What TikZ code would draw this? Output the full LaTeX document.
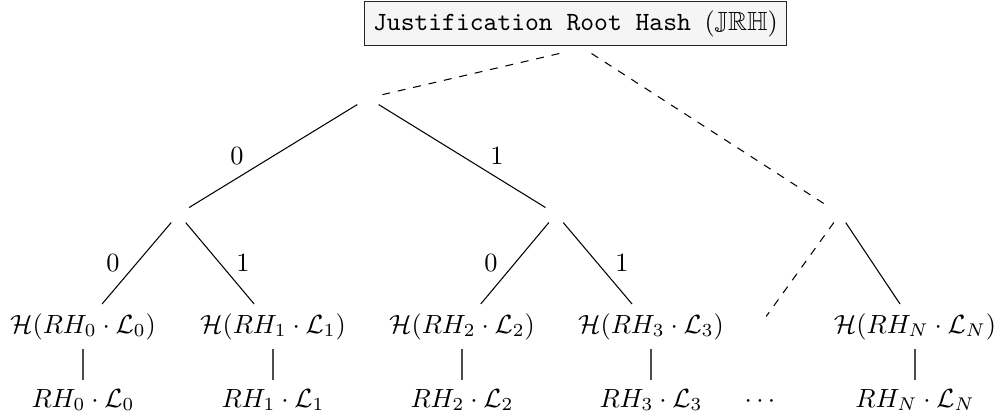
\documentclass[tikz,border=0pt]{standalone}
\usepackage{amssymb}
\begin{document}
\begin{tikzpicture}[x=0.38pt,y=-0.38pt,
  edge/.style={line width=0.4pt},
  dashededge/.style={line width=0.4pt,dashed},
  inner1/.style={inner sep=0pt,minimum width=9.9pt,minimum height=4.6pt},
  inner2/.style={inner sep=0pt,minimum width=7.6pt,minimum height=6.1pt},
  hnode/.style={anchor=base},
  leafnode/.style={anchor=base},
  bit/.style={inner sep=0pt}]
\useasboundingbox (0,0) rectangle (999,418);
% root box
\node[draw=black!85,fill=black!4,line width=0.5pt,inner sep=3.33pt] (jrh) at (575.5,23.5)
  {\texttt{Justification Root Hash }$(\mathbb{JRH})$};
\node[inner sep=0pt,minimum width=18.2pt,minimum height=3.8pt] (rt) at (583,48) {};
% internal nodes
\node[inner1] (n1) at (368,98) {};
\node[inner2] (n2) at (178.5,214) {};
\node[inner2] (n4) at (556,214) {};
\node[inner2] (n3) at (840,214) {};
\node[inner2] (e) at (760,325) {};
% hash leaves
\node[hnode] (h0) at (83,333) {$\mathcal{H}(RH_0\cdot\mathcal{L}_0)$};
\node[hnode] (h1) at (273,333) {$\mathcal{H}(RH_1\cdot\mathcal{L}_1)$};
\node[hnode] (h2) at (462,333) {$\mathcal{H}(RH_2\cdot\mathcal{L}_2)$};
\node[hnode] (h3) at (651,333) {$\mathcal{H}(RH_3\cdot\mathcal{L}_3)$};
\node[hnode] (hn) at (915,333) {$\mathcal{H}(RH_N\cdot\mathcal{L}_N)$};
% bottom
\node[leafnode] (r0) at (83,407) {$RH_0\cdot\mathcal{L}_0$};
\node[leafnode] (r1) at (273,407) {$RH_1\cdot\mathcal{L}_1$};
\node[leafnode] (r2) at (462,407) {$RH_2\cdot\mathcal{L}_2$};
\node[leafnode] (r3) at (651,407) {$RH_3\cdot\mathcal{L}_3$};
\node[leafnode] (dots) at (760,407) {$\cdots$};
\node[leafnode] (rn) at (915,407) {$RH_N\cdot\mathcal{L}_N$};
% edges
\draw[dashededge] (rt) -- (n1);
\draw[dashededge] (rt) -- (n3);
\draw[edge] (n1) -- (n2);
\draw[edge] (n1) -- (n4);
\draw[edge] (n2) -- (h0);
\draw[edge] (n2) -- (h1);
\draw[edge] (n4) -- (h2);
\draw[edge] (n4) -- (h3);
\draw[dashededge] (n3) -- (e);
\draw[edge] (n3) -- (hn);
\draw[edge,black!70] (h0) -- (r0);
\draw[edge,black!70] (h1) -- (r1);
\draw[edge,black!70] (h2) -- (r2);
\draw[edge,black!70] (h3) -- (r3);
\draw[edge,black!70] (hn) -- (rn);
% bit labels
\node[bit] (l1a) at (237,156) {0};
\node[bit] (l1b) at (497,156) {1};
\node[bit] (l2a) at (113,263) {0};
\node[bit] (l2b) at (243,263) {1};
\node[bit] (l2c) at (491,263) {0};
\node[bit] (l2d) at (622,263) {1};
\end{tikzpicture}
\end{document}
